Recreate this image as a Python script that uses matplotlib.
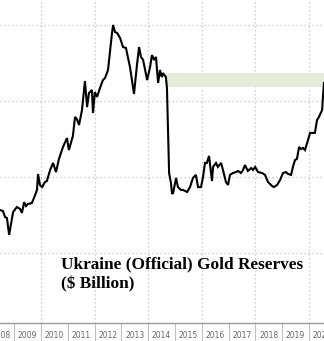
import numpy as np
import matplotlib
matplotlib.use('Agg')
import matplotlib.pyplot as plt

# Ukraine official gold reserves ($ Billion)
dates = [2008.47, 2008.58, 2008.66, 2008.73, 2008.81, 2008.92, 2008.96, 2009.10, 2009.22, 2009.29,
         2009.37, 2009.44, 2009.51, 2009.66, 2009.78, 2009.85, 2009.89, 2009.96, 2010.04, 2010.15,
         2010.22, 2010.34, 2010.45, 2010.56, 2010.67, 2010.82, 2010.97, 2011.04, 2011.19, 2011.27,
         2011.34, 2011.42, 2011.53, 2011.64, 2011.72, 2011.79, 2011.90, 2011.94, 2012.01, 2012.09,
         2012.20, 2012.31, 2012.39, 2012.50, 2012.57, 2012.65, 2012.69, 2012.76, 2012.84, 2012.95,
         2013.06, 2013.17, 2013.32, 2013.47, 2013.58, 2013.66, 2013.73, 2013.81, 2013.96, 2014.07,
         2014.14, 2014.22, 2014.29, 2014.37, 2014.44, 2014.51, 2014.55, 2014.66, 2014.70, 2014.78,
         2014.85, 2014.89, 2014.93, 2015.04, 2015.11, 2015.22, 2015.30, 2015.45, 2015.56, 2015.67,
         2015.78, 2015.86, 2015.97, 2016.04, 2016.12, 2016.19, 2016.27, 2016.38, 2016.42, 2016.53,
         2016.60, 2016.72, 2016.79, 2016.90, 2016.98, 2017.05, 2017.16, 2017.28, 2017.35, 2017.46,
         2017.54, 2017.61, 2017.72, 2017.84, 2017.91, 2017.99, 2018.10, 2018.25, 2018.36, 2018.47,
         2018.62, 2018.69, 2018.81, 2018.92, 2019.03, 2019.14, 2019.22, 2019.33, 2019.40, 2019.48,
         2019.55, 2019.63, 2019.70, 2019.78, 2019.85, 2019.93, 2020.04, 2020.15, 2020.22, 2020.30,
         2020.37, 2020.49, 2020.52, 2020.56]
reserves = [0.626, 0.621, 0.589, 0.584, 0.495, 0.584, 0.616, 0.642, 0.632, 0.611,
            0.668, 0.647, 0.658, 0.663, 0.705, 0.732, 0.816, 0.758, 0.747, 0.774,
            0.779, 0.837, 0.874, 0.826, 0.895, 0.958, 1.005, 0.942, 1.016, 1.116,
            1.105, 1.074, 1.153, 1.305, 1.168, 1.242, 1.258, 1.137, 1.247, 1.221,
            1.268, 1.310, 1.321, 1.363, 1.453, 1.558, 1.600, 1.563, 1.558, 1.532,
            1.484, 1.479, 1.379, 1.237, 1.389, 1.484, 1.432, 1.416, 1.310, 1.379,
            1.442, 1.416, 1.432, 1.295, 1.363, 1.326, 1.347, 1.326, 1.268, 0.821,
            0.768, 0.711, 0.716, 0.795, 0.747, 0.732, 0.732, 0.721, 0.747, 0.795,
            0.811, 0.747, 0.747, 0.795, 0.874, 0.874, 0.911, 0.779, 0.853, 0.874,
            0.853, 0.874, 0.837, 0.774, 0.758, 0.811, 0.821, 0.826, 0.832, 0.821,
            0.837, 0.863, 0.832, 0.847, 0.837, 0.853, 0.826, 0.821, 0.811, 0.774,
            0.753, 0.747, 0.758, 0.784, 0.821, 0.826, 0.816, 0.811, 0.853, 0.890,
            0.895, 0.958, 0.947, 0.953, 0.942, 0.979, 1.032, 1.032, 1.032, 1.100,
            1.116, 1.153, 1.221, 1.295]

band_start = 2014.66
band_low, band_high = 1.275, 1.345

years = list(range(2009, 2021))
year_labels = [str(y) for y in range(2008, 2021)]
grid_years = [2010, 2012, 2014, 2016, 2018, 2020]
grid_levels = [0.4, 0.8, 1.2, 1.6]

fig = plt.figure(figsize=(3.24, 3.41), dpi=100)
ax = fig.add_axes([0, 1 - 323 / 341, 1, 323 / 341])

x_min, x_max = 2008.47, 2020.56
ax.set_xlim(x_min, x_max)
ax.set_ylim(0.0316, 1.7316)

# highlighted band
ax.axhspan(band_low, band_high, xmin=(band_start - x_min) / (x_max - x_min), xmax=1,
           color='#e3ecd9', lw=0, zorder=1)

# dotted grid
for g in grid_years:
    ax.axvline(g, color='#c8c8c8', ls=(0, (1.2, 2)), lw=0.9, zorder=0)
for g in grid_levels:
    ax.axhline(g, color='#c8c8c8', ls=(0, (1.2, 2)), lw=0.9, zorder=0)

ax.plot(dates, reserves, color='black', lw=1.5, zorder=3, solid_joinstyle='miter')

# axes styling
for s in ['top', 'left', 'right']:
    ax.spines[s].set_visible(False)
ax.spines['bottom'].set_color('#9a9a9a')
ax.spines['bottom'].set_linewidth(1.0)
ax.set_yticks([])

# year separators as major ticks, labels at mid-year as minor ticks
ax.set_xticks(years)
ax.set_xticklabels([])
ax.tick_params(axis='x', which='major', length=14, width=0.8, color='#c0c0c0', direction='out')
ax.set_xticks([y + 0.5 for y in range(2008, 2021)], minor=True)
ax.set_xticklabels(year_labels, minor=True)
ax.tick_params(axis='x', which='minor', length=0, pad=6, labelsize=5.5, labelcolor='#666666')

# title
fig.text(61 / 324, 1 - 268 / 341, 'Ukraine (Official) Gold Reserves',
         family='Liberation Serif', weight='bold', fontsize=12.4, va='baseline', ha='left')
fig.text(61 / 324, 1 - 288 / 341, '($ Billion)',
         family='Liberation Serif', weight='bold', fontsize=12.4, va='baseline', ha='left')

fig.savefig('out.png', dpi=100)
